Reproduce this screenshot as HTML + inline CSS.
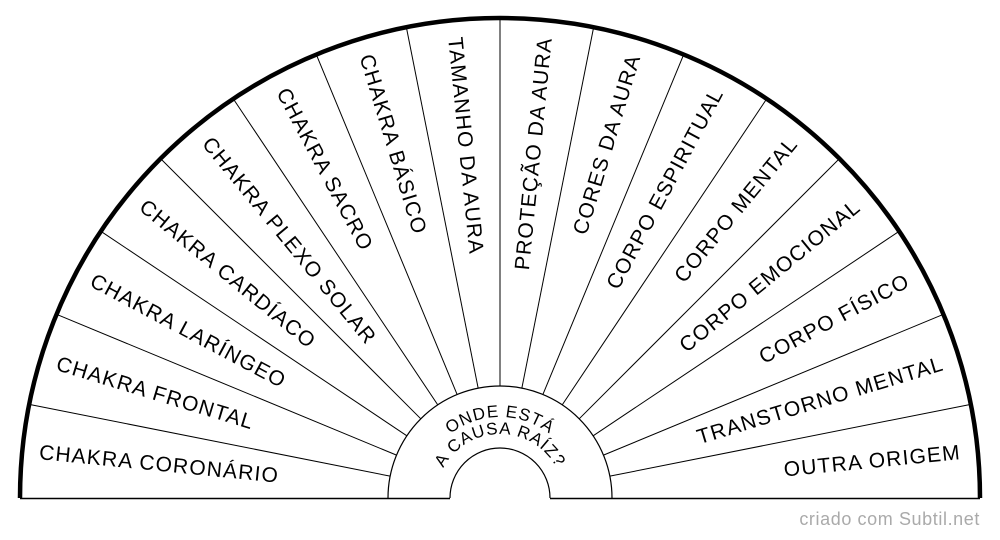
<!DOCTYPE html>
<html><head><meta charset="utf-8"><style>
html,body{margin:0;padding:0;background:#fff;}
svg{display:block;}
</style></head><body>
<svg width="1000" height="540" viewBox="0 0 1000 540" xmlns="http://www.w3.org/2000/svg" font-family="Liberation Sans, Arial, sans-serif">
<g id="lines" stroke="#000" stroke-width="1"></g>
<line x1="20" y1="498.5" x2="450" y2="498.5" stroke="#000" stroke-width="1.5"/>
<line x1="550" y1="498.5" x2="980" y2="498.5" stroke="#000" stroke-width="1.5"/>
<path d="M388 498 A112 112 0 0 1 612 498" fill="none" stroke="#000" stroke-width="1.2"/>
<path d="M450 498 A50 50 0 0 1 550 498" fill="none" stroke="#000" stroke-width="1.2"/>
<path d="M20 498 A480 480 0 0 1 980 498" fill="none" stroke="#000" stroke-width="4.5"/>
<defs>
<path id="a1" d="M419 498 A81 81 0 0 1 581 498"/>
<path id="a2" d="M436 498 A64 64 0 0 1 564 498"/>
</defs>
<text font-size="17" fill="#000" letter-spacing="1"><textPath href="#a1" startOffset="50%" text-anchor="middle">ONDE ESTÁ</textPath></text>
<text font-size="17" fill="#000" letter-spacing="1"><textPath href="#a2" startOffset="50%" text-anchor="middle">A CAUSA RAÍZ?</textPath></text>
<g id="labels" font-size="21" fill="#000" letter-spacing="1.2"></g>
<text x="980" y="525" font-size="18" fill="#aaa" text-anchor="end" letter-spacing="0.6">criado com Subtil.net</text>
<script>
var L=["CHAKRA CORONÁRIO","CHAKRA FRONTAL","CHAKRA LARÍNGEO","CHAKRA CARDÍACO","CHAKRA PLEXO SOLAR","CHAKRA SACRO","CHAKRA BÁSICO","TAMANHO DA AURA","PROTEÇÃO DA AURA","CORES DA AURA","CORPO ESPIRITUAL","CORPO MENTAL","CORPO EMOCIONAL","CORPO FÍSICO","TRANSTORNO MENTAL","OUTRA ORIGEM"];
var cx=500,cy=498,ns="http://www.w3.org/2000/svg";
var gl=document.getElementById("lines"),gt=document.getElementById("labels");
for(var k=1;k<16;k++){var a=k*11.25*Math.PI/180;var l=document.createElementNS(ns,"line");
l.setAttribute("x1",cx-112*Math.cos(a));l.setAttribute("y1",cy-112*Math.sin(a));
l.setAttribute("x2",cx-480*Math.cos(a));l.setAttribute("y2",cy-480*Math.sin(a));gl.appendChild(l);}
for(var k=0;k<16;k++){var p=(k+0.5)*11.25,a=p*Math.PI/180,r=463;
var x=cx-r*Math.cos(a),y=cy-r*Math.sin(a);var t=document.createElementNS(ns,"text");
t.setAttribute("x",x);t.setAttribute("y",y);t.setAttribute("dominant-baseline","central");
if(k<8){t.setAttribute("transform","rotate("+p+" "+x+" "+y+")");}
else{t.setAttribute("text-anchor","end");t.setAttribute("transform","rotate("+(p-180)+" "+x+" "+y+")");}
t.textContent=L[k];gt.appendChild(t);}
</script>
</svg>
</body></html>
